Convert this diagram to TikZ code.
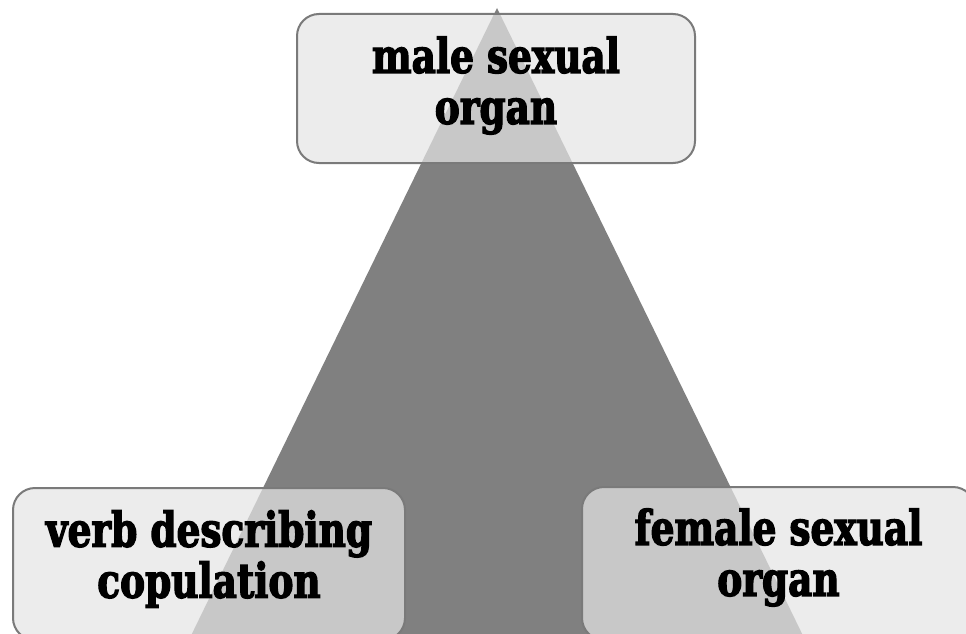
\documentclass[tikz,border=0pt]{standalone}
\usepackage{fontspec}
\newfontfamily\boxfont[FakeStretch=0.78,BoldFeatures={FakeBold=2.6}]{DejaVu Serif}
\definecolor{trigrey}{HTML}{808080}
\definecolor{boxfill}{HTML}{E5E5E5}
\definecolor{boxline}{HTML}{7A7A7A}
\tikzset{
  termbox/.style={draw=boxline, line width=2pt, fill=boxfill, fill opacity=0.72,
    draw opacity=1, rounded corners=22pt, inner sep=0pt},
  termtext/.style={align=center, inner sep=0pt, text=black,
    font=\boxfont\bfseries\fontsize{48}{51}\selectfont},
}
\begin{document}
\begin{tikzpicture}[x=1pt,y=-1pt]
  \useasboundingbox (0,0) rectangle (966,634);
  \fill[white] (0,0) rectangle (966,634);
  \clip (0,0) rectangle (966,634);
  \coordinate (apex) at (497,8);
  \coordinate (bl) at (184,650);
  \coordinate (br) at (810,650);
  \fill[trigrey] (apex) -- (br) -- (bl) -- cycle;
  \node[termbox, minimum width=398pt, minimum height=149pt] (male) at (496,88.5) {};
  \node[termbox, minimum width=392pt, minimum height=152pt] (verb) at (209,564) {};
  \node[termbox, minimum width=393pt, minimum height=153pt] (female) at (778.5,563.5) {};
  \node[termtext, yshift=3pt] (maletext) at (male.center) {male sexual\\organ};
  \node[termtext, yshift=5pt] (verbtext) at (verb.center) {verb describing\\copulation};
  \node[termtext, yshift=6pt] (femaletext) at (female.center) {female sexual\\organ};
\end{tikzpicture}
\end{document}
